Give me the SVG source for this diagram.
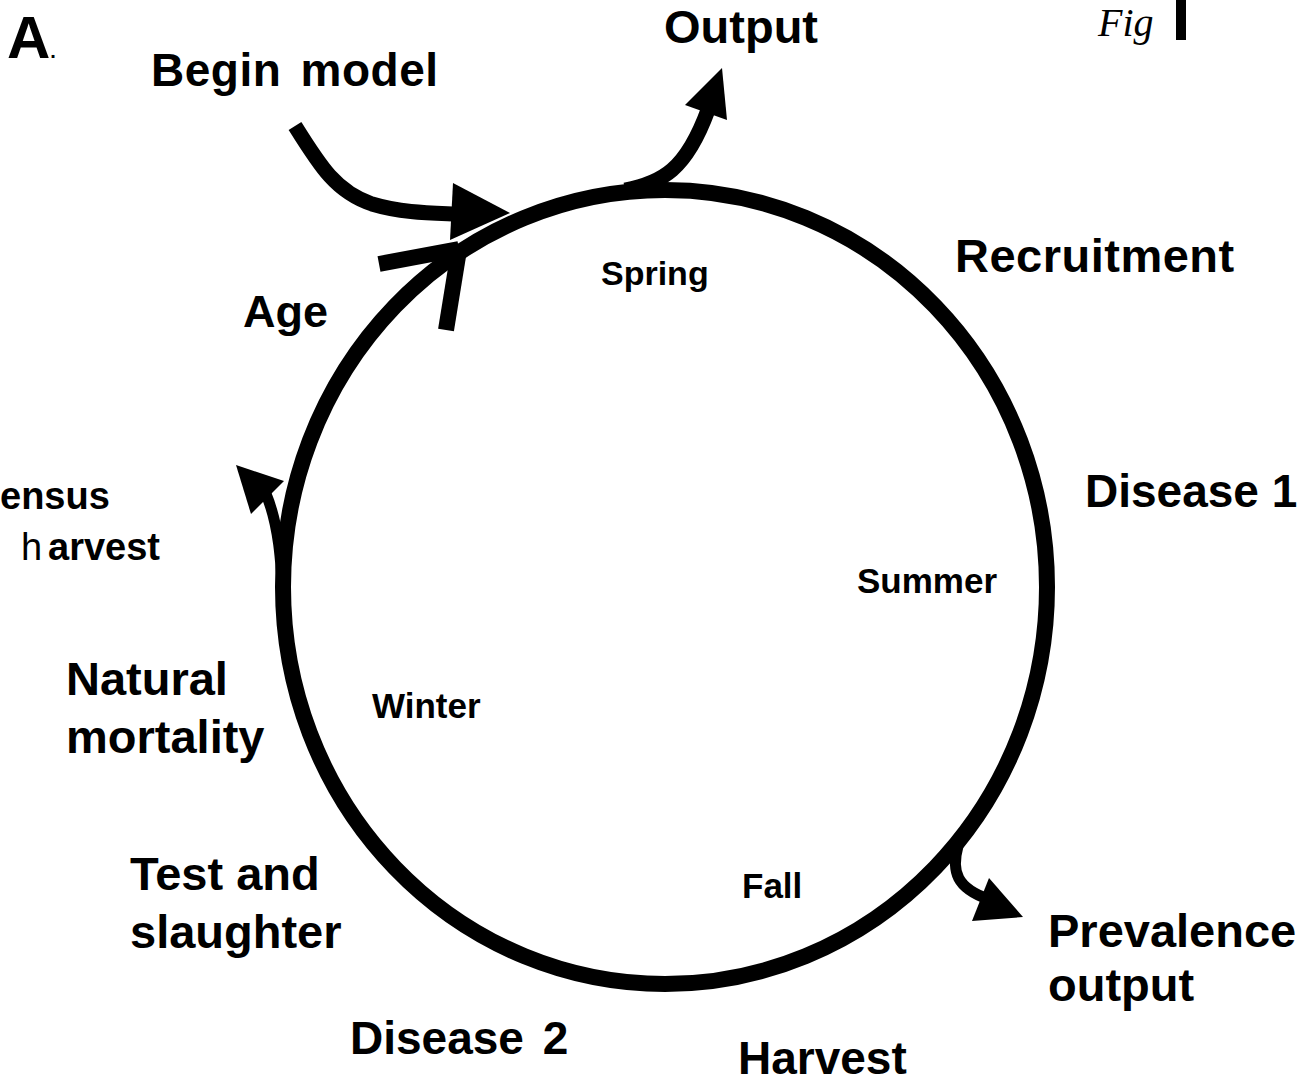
<svg xmlns="http://www.w3.org/2000/svg" width="1305" height="1084" viewBox="0 0 1305 1084">
<style>
.lbl{font-family:"Liberation Sans",Arial,sans-serif;font-weight:bold;fill:#000}
.sm{font-family:"Liberation Sans",Arial,sans-serif;font-weight:bold;fill:#000}
.ln{fill:none;stroke:#000;stroke-width:15}
.head{fill:#000;stroke:none}
</style>
<rect width="1305" height="1084" fill="#fff"/>
<g id="connectors">
  <ellipse id="cycle" class="ln" cx="665" cy="587" rx="382" ry="397" style="stroke-width:16"/>
  <path id="begin-arrow" class="ln" d="M295,126 C320,166 336,192 372,204 C402,213 430,213 456,214"/>
  <polygon class="head" points="453,183 510,213 450,240"/>
  <path id="output-arrow" class="ln" d="M625,190 C662,183 686,170 708,110"/>
  <polygon class="head" points="685,105 722,68 727,120"/>
  <path id="age-chevron-a" class="ln" style="stroke-width:16" d="M379,264 L459,249"/>
  <path id="age-chevron-b" class="ln" style="stroke-width:16" d="M446,330 L459,250"/>
  <path id="census-arrow" class="ln" style="stroke-width:11" d="M284,610 C281,560 279,525 266,494"/>
  <polygon class="head" points="236,465 284,481 251,514"/>
  <path id="prevalence-arrow" class="ln" style="stroke-width:11" d="M958,846 C951,872 957,888 988,899"/>
  <polygon class="head" points="989,878 1023,917 972,921"/>
</g>
<g id="label-A"><text class="lbl" x="7" y="58" style="font-size:60px">A<tspan style="font-size:20px">.</tspan></text></g>
<g id="node-begin"><text class="lbl" x="151" y="86" style="font-size:46px;letter-spacing:0.5px;word-spacing:6px">Begin model</text></g>
<g id="node-output"><text class="lbl" x="664" y="43" style="font-size:47px">Output</text></g>
<g id="fig-mark"><text x="1098" y="36" font-family="Liberation Serif,serif" font-style="italic" font-size="40" fill="#000">Fig</text><rect x="1176" y="0" width="10" height="40" fill="#000"/></g>
<g id="node-recruitment"><text class="lbl" x="955" y="272" style="font-size:47px;letter-spacing:0.5px">Recruitment</text></g>
<g id="season-spring"><text class="sm" x="601" y="285" style="font-size:34px">Spring</text></g>
<g id="node-age"><text class="lbl" x="243" y="327" style="font-size:45px">Age</text></g>
<g id="node-census"><text class="lbl" x="0" y="509" style="font-size:38px">ensus</text><text class="lbl" y="560" style="font-size:38px"><tspan x="21" style="font-weight:normal">h</tspan><tspan x="48">arvest</tspan></text></g>
<g id="node-disease1"><text class="lbl" x="1085" y="507" style="font-size:46px">Disease 1</text></g>
<g id="season-summer"><text class="sm" x="857" y="593" style="font-size:35px">Summer</text></g>
<g id="node-natural"><text class="lbl" x="66" y="695" style="font-size:47px">Natural</text><text class="lbl" x="66" y="753" style="font-size:47px">mortality</text></g>
<g id="season-winter"><text class="sm" x="372" y="718" style="font-size:35px">Winter</text></g>
<g id="node-test"><text class="lbl" x="130" y="890" style="font-size:47px">Test and</text><text class="lbl" x="130" y="948" style="font-size:47px">slaughter</text></g>
<g id="season-fall"><text class="sm" x="742" y="898" style="font-size:35px">Fall</text></g>
<g id="node-prevalence"><text class="lbl" x="1048" y="947" style="font-size:47px">Prevalence</text><text class="lbl" x="1048" y="1001" style="font-size:47px">output</text></g>
<g id="node-disease2"><text class="lbl" x="350" y="1054" style="font-size:46px;word-spacing:6px">Disease 2</text></g>
<g id="node-harvest"><text class="lbl" x="738" y="1074" style="font-size:46px">Harvest</text></g>
</svg>
